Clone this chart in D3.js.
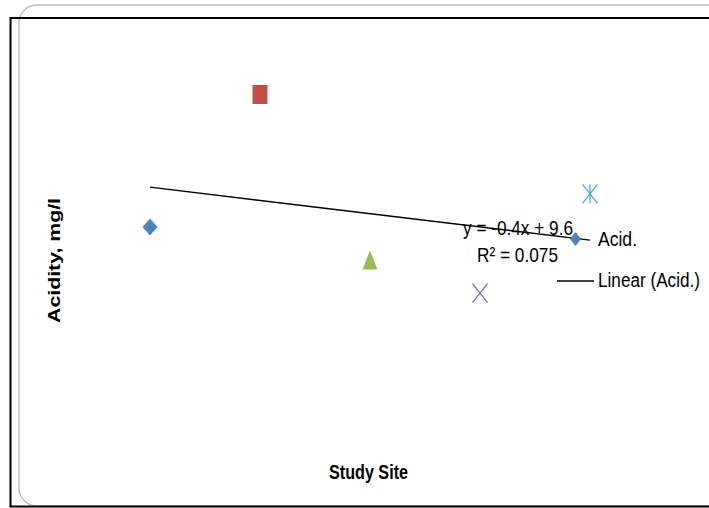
<!DOCTYPE html>
<html><head><meta charset="utf-8">
<script src="https://cdn.jsdelivr.net/npm/d3@7"></script>
<style>body{margin:0;background:#fff}svg{display:block}</style>
</head><body><svg id="c" width="709" height="508"></svg>
<script>
const sites = [1, 2, 3, 4, 5];
const acidity = [8, 12, 7, 6, 9];
const markerShapes = ["diamond", "square", "triangle", "x", "star"];
const markerColors = ["#4F81BD", "#C0504D", "#9BBB59", "#8064A2", "#4BACC6"];
const legendLabels = ["Acid.", "Linear (Acid.)"];
const eqLabels = ["y = -0.4x + 9.6", "R² = 0.075"];
const xTitle = "Study Site";
const yTitle = "Acidity, mg/l";

const svg = d3.select("#c");
const x = d3.scaleLinear().domain([0, 6]).range([40, 700]);
const y = d3.scaleLinear().domain([0, 14]).range([491.7, 28.3]);

// chart frames
svg.append("rect").attr("x", 19).attr("y", 5).attr("width", 720).attr("height", 501)
  .attr("rx", 18).attr("fill", "none").attr("stroke", "#bdbdbd").attr("stroke-width", 1.5);
svg.append("rect").attr("x", 10.5).attr("y", 18).attr("width", 720).attr("height", 488.5)
  .attr("fill", "none").attr("stroke", "#000").attr("stroke-width", 2);

// trendline (least squares)
const mx = d3.mean(sites), my = d3.mean(acidity);
const slope = d3.sum(sites, (s, i) => (s - mx) * (acidity[i] - my)) / d3.sum(sites, s => (s - mx) ** 2);
const icpt = my - slope * mx;
const x0 = d3.min(sites), x1 = d3.max(sites);
svg.append("line").attr("x1", x(x0)).attr("y1", y(slope * x0 + icpt))
  .attr("x2", x(x1)).attr("y2", y(slope * x1 + icpt))
  .attr("stroke", "#000").attr("stroke-width", 1.4);

function drawMarker(g, shape, color, cx, cy, w, h) {
  const hw = w / 2, hh = h / 2;
  if (shape === "diamond") {
    g.append("path").attr("d", `M${cx},${cy - hh}L${cx + hw},${cy}L${cx},${cy + hh}L${cx - hw},${cy}Z`).attr("fill", color);
  } else if (shape === "square") {
    g.append("rect").attr("x", cx - hw).attr("y", cy - hh).attr("width", w).attr("height", h).attr("fill", color);
  } else if (shape === "triangle") {
    g.append("path").attr("d", `M${cx},${cy - hh}L${cx + hw},${cy + hh}L${cx - hw},${cy + hh}Z`).attr("fill", color);
  } else if (shape === "x") {
    g.append("path").attr("d", `M${cx - hw},${cy - hh}L${cx + hw},${cy + hh}M${cx + hw},${cy - hh}L${cx - hw},${cy + hh}`)
      .attr("stroke", color).attr("stroke-width", 1.3).attr("fill", "none");
  } else if (shape === "star") {
    g.append("path").attr("d", `M${cx - hw},${cy - hh}L${cx + hw},${cy + hh}M${cx + hw},${cy - hh}L${cx - hw},${cy + hh}M${cx},${cy - hh}L${cx},${cy + hh}`)
      .attr("stroke", color).attr("stroke-width", 1.3).attr("fill", "none");
  }
}

const gm = svg.append("g");
sites.forEach((s, i) => {
  drawMarker(gm, markerShapes[i], markerColors[i], x(s), y(acidity[i]), 15, markerShapes[i] === "diamond" ? 17 : 19);
});

const font = "'Liberation Sans Narrow', 'Liberation Sans', Arial, sans-serif";

// equation label
svg.append("text").attr("x", 463).attr("y", 235).attr("font-family", font).attr("font-size", 21)
  .attr("textLength", 110).attr("lengthAdjust", "spacingAndGlyphs").text(eqLabels[0]);
svg.append("text").attr("x", 477).attr("y", 261.5).attr("font-family", font).attr("font-size", 21)
  .attr("textLength", 81).attr("lengthAdjust", "spacingAndGlyphs").text(eqLabels[1]);

// legend
drawMarker(svg.append("g"), "diamond", markerColors[0], 575.5, 239, 11, 14);
svg.append("text").attr("x", 598).attr("y", 245.5).attr("font-family", font).attr("font-size", 21)
  .attr("textLength", 39).attr("lengthAdjust", "spacingAndGlyphs").text(legendLabels[0]);
svg.append("line").attr("x1", 557).attr("x2", 594).attr("y1", 281).attr("y2", 281)
  .attr("stroke", "#000").attr("stroke-width", 1.4);
svg.append("text").attr("x", 598).attr("y", 287).attr("font-family", font).attr("font-size", 20)
  .attr("textLength", 102).attr("lengthAdjust", "spacingAndGlyphs").text(legendLabels[1]);

// axis titles
svg.append("text").attr("x", 329).attr("y", 479).attr("font-family", font).attr("font-weight", "bold")
  .attr("font-size", 20).attr("textLength", 79).attr("lengthAdjust", "spacingAndGlyphs").text(xTitle);
svg.append("text").attr("transform", "translate(60,323) rotate(-90)").attr("font-family", "'Liberation Sans', Arial, sans-serif")
  .attr("font-weight", "bold").attr("font-size", 16).attr("textLength", 125).attr("lengthAdjust", "spacingAndGlyphs").text(yTitle);
</script></body></html>
